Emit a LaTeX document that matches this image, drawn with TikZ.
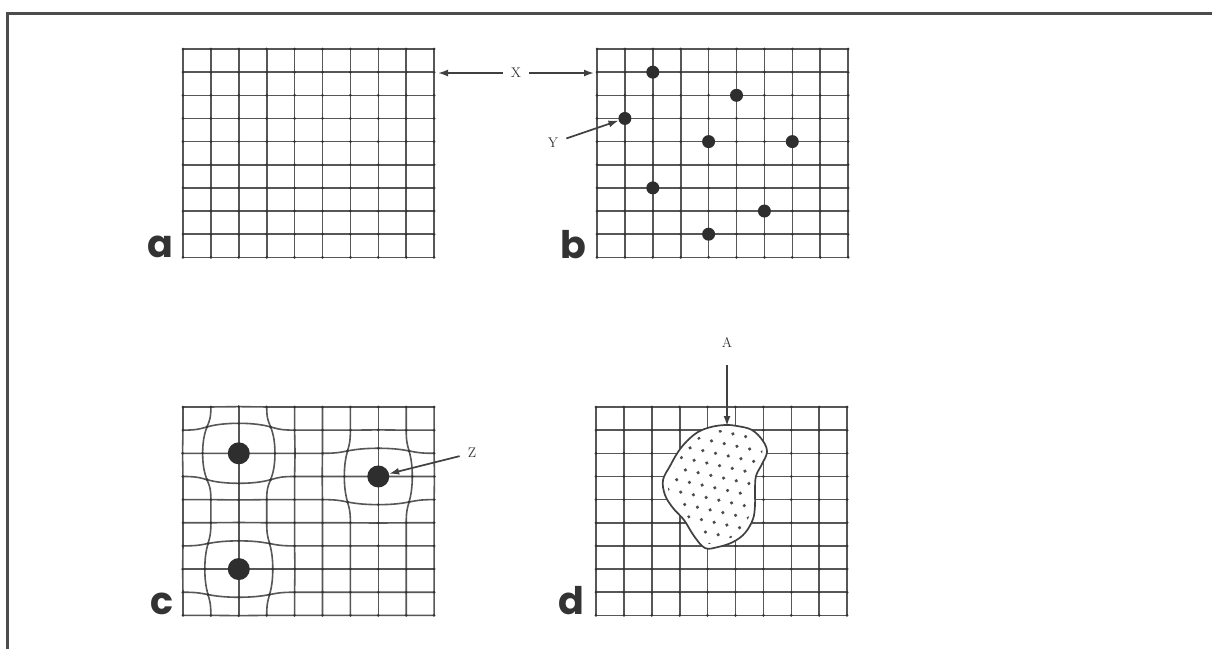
\documentclass[tikz,border=0pt]{standalone}
\usepackage{fontspec}
\newfontfamily\panelfont{Poppins}
\usetikzlibrary{arrows.meta,positioning,calc}
\newcommand{\blobshape}{plot[smooth cycle,tension=0.6] coordinates {(725,425) (737,426) (752,430) (763,441) (767,452) (762,464) (756,476) (755,490) (755,505) (753,519) (745,533) (733,542) (718,547) (705,548) (694,536) (684,520) (673,508) (665,495) (663,480) (670,466) (678,452) (687,441) (698,432) (711,427)}}

\begin{document}
\begin{tikzpicture}[x=1pt,y=-1pt,>=Latex,
  gline/.style={draw=black!66,line width=1.6pt},
  bead/.style={fill=black!80},
  spot/.style={circle,fill=black!82,inner sep=0pt,minimum size=13pt},
  bigspot/.style={spot,minimum size=22pt},
  pointer/.style={->,draw=black!75,line width=1.7pt,>={Latex[length=10pt,width=7pt]}},
  lab/.style={font=\fontsize{14}{14}\selectfont,text=black!80,inner sep=8pt},
  panel/.style={font=\panelfont\bfseries\fontsize{38}{38}\selectfont,text=black!80,inner sep=0pt,anchor=base},
  cell/.style={x=27.9pt,y=-23.15pt},
  declare function={
    wf(\dxx,\dyy,\amp)=\amp*exp(-min((\dxx*\dxx+\dyy*\dyy)*(\dxx*\dxx+\dyy*\dyy)/4,10));
    wx(\px,\py)=\px+(\px-2)*wf(\px-2,\py-2,0.38)+(\px-7)*wf(\px-7,\py-3,0.28)+(\px-2)*wf(\px-2,\py-7,0.28);
    wy(\px,\py)=\py+(\py-2)*wf(\px-2,\py-2,0.38)+(\py-3)*wf(\px-7,\py-3,0.28)+(\py-7)*wf(\px-2,\py-7,0.28);}]
\useasboundingbox[fill=white] (0,0) rectangle (1212,649);
\draw[line width=3pt,black!70] (1212,13) -- (7,13) -- (7,649);

\foreach \gx/\gy in {183/49,597/49,596/407}{
  \begin{scope}[shift={(\gx,\gy)},cell]
    \foreach \i in {0,...,9}{\draw[gline] (\i,0) -- (\i,9); \draw[gline] (0,\i) -- (9,\i);}
    \foreach \i in {0,...,9} \foreach \j in {0,...,9} \fill[bead] (\i,\j) circle (1.5pt);
  \end{scope}}

\begin{scope}[shift={(597,49)},cell]
  \foreach \c/\r [count=\k] in {2/1,5/2,1/3,4/4,7/4,2/6,6/7,4/8} \node[spot] (bd\k) at (\c,\r) {};
\end{scope}

\begin{scope}[shift={(183,407)},cell]
  \foreach \i in {0,...,9}{
    \draw[gline] plot[smooth,variable=\vv,domain=0:9,samples=37] ({wx(\i,\vv)},{wy(\i,\vv)});
    \draw[gline] plot[smooth,variable=\vv,domain=0:9,samples=37] ({wx(\vv,\i)},{wy(\vv,\i)});}
  \foreach \i in {0,...,9} \foreach \j in {0,...,9} \fill[bead] ({wx(\i,\j)},{wy(\i,\j)}) circle (1.5pt);
  \foreach \c/\r [count=\k] in {2/2,7/3,2/7} \node[bigspot] (cd\k) at (\c,\r) {};
\end{scope}

\fill[white] \blobshape;
\begin{scope}
  \clip \blobshape;
  \begin{scope}[rotate around={-12:(715,487)}]
    \foreach \r in {-2,...,14} \foreach \c in {-2,...,11}
      \fill[black!70] ({650+13*\c+6.5*mod(\r,2)},{420+11.3*\r}) circle (1.8pt);
  \end{scope}
  \draw[white,line width=9pt] \blobshape;
\end{scope}
\draw[line width=1.7pt,black!75] \blobshape;

\node[lab] (X) at (516,73) {X};
\coordinate (xa) at (438,73);
\coordinate (xb) at (594,73);
\draw[pointer] (X) -- (xa);
\draw[pointer] (X) -- (xb);
\node[lab] (Y) at (553,143) {Y};
\draw[pointer] (Y) -- (bd3);
\node[lab] (Z) at (472,453) {Z};
\draw[pointer] (Z) -- (cd2);
\node[lab] (A) at (727,342) {A};
\coordinate (ta) at (727,426);
\draw[pointer,shorten <=10pt] (A) -- (ta);

\node[panel] (pa) at (160,257) {a};
\node[panel] (pb) at (573,258) {b};
\node[panel] (pc) at (162,614) {c};
\node[panel] (pd) at (571,614) {d};
\end{tikzpicture}
\end{document}
